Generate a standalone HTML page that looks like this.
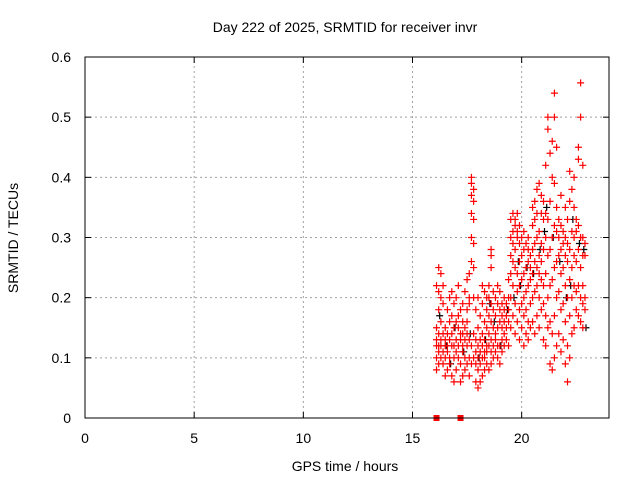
<!DOCTYPE html>
<html><head><meta charset="utf-8"><style>
body{margin:0;background:#fff}
svg{display:block;font-family:"Liberation Sans",sans-serif}
</style></head><body>
<svg id="chart" width="640" height="480" viewBox="0 0 640 480">
<rect width="640" height="480" fill="#fff"/>
<text x="345" y="32" font-size="14" text-anchor="middle" fill="#000">Day 222 of 2025, SRMTID for receiver invr</text>
<text x="345" y="471" font-size="14" text-anchor="middle">GPS time / hours</text>
<text transform="translate(18,238) rotate(-90)" font-size="14" text-anchor="middle">SRMTID / TECUs</text>
<g id="grid"></g>
<g id="ticks"></g>
<g id="black"></g>
<g id="red"></g>
<rect x="85" y="57" width="524" height="361" fill="none" stroke="#000" stroke-width="1"/>
</svg>
<script>
const xTicks=[0,5,10,15,20];
const yTicks=[0,0.1,0.2,0.3,0.4,0.5,0.6];
const yTickLabels=["0","0.1","0.2","0.3","0.4","0.5","0.6"];
const redTimes=[16.1,16.2,16.3,16.4,16.5,16.6,16.7,16.8,16.9,17.0,17.1,17.2,17.3,17.4,17.5,17.6,17.7,17.8,17.9,18.0,18.1,18.2,18.3,18.4,18.5,18.6,18.7,18.8,18.9,19.0,19.1,19.2,19.3,19.4,19.5,19.6,19.7,19.8,19.9,20.0,20.1,20.2,20.3,20.4,20.5,20.6,20.7,20.8,20.9,21.0,21.1,21.2,21.3,21.4,21.5,21.6,21.7,21.8,21.9,22.0,22.1,22.2,22.3,22.4,22.5,22.6,22.7,22.8,22.9];
const redValues=[
[0.08,0.10,0.12,0.13,0.15,0.22],[0.09,0.11,0.12,0.14,0.18,0.21,0.25],[0.10,0.12,0.13,0.16,0.24,0.2],[0.09,0.11,0.14,0.19,0.22],[0.07,0.10,0.12,0.13,0.15],[0.08,0.11,0.12,0.14,0.18],[0.09,0.10,0.13,0.16,0.2],[0.07,0.12,0.14,0.17,0.21],[0.06,0.10,0.12,0.19,0.15],[0.08,0.11,0.13,0.16,0.20],
[0.10,0.12,0.15,0.17,0.22],[0.06,0.09,0.13,0.18,0.14],[0.07,0.11,0.12,0.14,0.16,0.19],[0.08,0.10,0.13,0.15,0.21],[0.09,0.12,0.14,0.16,0.18,0.23],[0.07,0.10,0.13,0.19,0.2,0.24],[0.09,0.12,0.26,0.3,0.34,0.37,0.39,0.4],[0.1,0.14,0.2,0.25,0.29,0.33,0.36,0.38],[0.06,0.09,0.11,0.13,0.18],[0.05,0.08,0.10,0.12,0.15,0.2],
[0.06,0.09,0.11,0.13,0.17],[0.07,0.10,0.12,0.14,0.19,0.22],[0.08,0.10,0.11,0.13,0.16,0.21],[0.09,0.11,0.12,0.15,0.18,0.2],[0.08,0.12,0.14,0.17,0.2,0.22],[0.09,0.11,0.13,0.16,0.19,0.25,0.27,0.28],[0.10,0.12,0.15,0.18,0.21],[0.11,0.13,0.14,0.17,0.2],[0.1,0.12,0.15,0.19,0.22],[0.09,0.12,0.16,0.18,0.21],
[0.11,0.13,0.15,0.17,0.19],[0.12,0.14,0.16,0.18,0.2],[0.13,0.15,0.17,0.19],[0.12,0.16,0.18,0.2,0.23],[0.15,0.2,0.24,0.27,0.3,0.33],[0.17,0.22,0.26,0.29,0.31,0.34],[0.14,0.19,0.25,0.28,0.32,0.33],[0.16,0.21,0.24,0.3,0.31,0.34],[0.13,0.18,0.22,0.26,0.29,0.32],[0.15,0.19,0.23,0.27,0.3],
[0.12,0.17,0.2,0.24,0.28,0.31],[0.14,0.18,0.21,0.25,0.29],[0.13,0.16,0.22,0.26,0.28,0.3],[0.15,0.19,0.23,0.25,0.27],[0.16,0.2,0.24,0.28,0.32,0.35],[0.14,0.21,0.26,0.29,0.33,0.36],[0.17,0.22,0.25,0.3,0.34,0.38],[0.15,0.2,0.24,0.27,0.31,0.39],[0.18,0.23,0.26,0.29,0.34,0.37],[0.13,0.19,0.22,0.28,0.33,0.36],
[0.12,0.17,0.24,0.3,0.34,0.42],[0.15,0.2,0.27,0.33,0.48,0.5],[0.09,0.16,0.22,0.28,0.36,0.44],[0.08,0.14,0.23,0.3,0.4,0.46],[0.1,0.17,0.25,0.32,0.39,0.54,0.5],[0.12,0.2,0.26,0.31,0.35,0.45],[0.14,0.21,0.27,0.3,0.33],[0.11,0.18,0.24,0.28,0.32,0.37],[0.13,0.19,0.25,0.29,0.31],[0.09,0.16,0.22,0.27,0.3,0.35],
[0.06,0.12,0.2,0.26,0.29,0.33],[0.1,0.17,0.23,0.28,0.36,0.41],[0.14,0.2,0.25,0.31,0.38],[0.15,0.22,0.27,0.3,0.35,0.4],[0.18,0.21,0.26,0.31,0.33],[0.17,0.22,0.28,0.32,0.45,0.43],[0.16,0.2,0.25,0.3,0.5,0.557],[0.15,0.19,0.22,0.27,0.3,0.42],[0.18,0.2,0.27,0.29]
];
const blackTimes=[16.2,16.5,16.9,17.3,17.6,18.0,18.3,18.7,19.0,19.3,19.6,19.9,20.2,20.5,20.8,21.1,21.4,21.7,22.0,22.3,22.6,22.9,16.7,18.5,19.8,21.0,22.2,22.8];
const blackValues=[0.17,0.12,0.15,0.11,0.14,0.1,0.13,0.16,0.12,0.18,0.2,0.22,0.25,0.24,0.28,0.35,0.3,0.26,0.2,0.33,0.29,0.15,0.09,0.19,0.26,0.31,0.22,0.28];
const zeroTimes=[16.1,17.2];

const NS="http://www.w3.org/2000/svg";
const X0=85,X1=609,Y0=418,Y1=57,XMAX=24,YMAX=0.6;
function xs(t){return X0+(X1-X0)*t/XMAX;}
function ys(v){return Y0-(Y0-Y1)*v/YMAX;}
function mk(tag,attrs,parent){const e=document.createElementNS(NS,tag);for(const k in attrs)e.setAttribute(k,attrs[k]);parent.appendChild(e);return e;}
const grid=document.getElementById('grid'),ticks=document.getElementById('ticks');
xTicks.forEach(t=>{
  const x=xs(t);
  if(t>0){const g=mk('line',{x1:x,x2:x,y1:Y0,y2:Y1,stroke:'#a0a0a0','stroke-dasharray':'2,3'},grid);
  
  }
  const l=mk('text',{x:x,y:443,'font-size':14,'text-anchor':'middle'},ticks);l.textContent=t;
  
  
  mk('line',{x1:x,x2:x,y1:Y0,y2:Y0-6,stroke:'#000'},ticks);
  mk('line',{x1:x,x2:x,y1:Y1,y2:Y1+6,stroke:'#000'},ticks);
});
yTicks.forEach((v,i)=>{
  const y=ys(v);
  if(v>0&&v<YMAX){const g=mk('line',{x1:X0,x2:X1,y1:y,y2:y,stroke:'#a0a0a0','stroke-dasharray':'2,3'},grid);
  
  }
  const l=mk('text',{x:71,y:y+5,'font-size':14,'text-anchor':'end'},ticks);l.textContent=yTickLabels[i];
  
  
  mk('line',{x1:X0,x2:X0+6,y1:y,y2:y,stroke:'#000'},ticks);
  mk('line',{x1:X1,x2:X1-6,y1:y,y2:y,stroke:'#000'},ticks);
});
function plus(x,y,col,parent){
  const p=mk('path',{d:`M${x-3.5},${y}h7M${x},${y-3.5}v7`,stroke:col,'stroke-width':1.2,fill:'none'},parent);
  return p;
}
const bg=document.getElementById('black');
blackTimes.forEach((t,i)=>{
  const p=plus(xs(t)+1,ys(blackValues[i]),'#000',bg);
  
  
});
const rg=document.getElementById('red');
redTimes.forEach((t,i)=>{
  redValues[i].forEach(v=>{
    const p=plus(xs(t),ys(v),'#ff0000',rg);
    
    
  });
});
zeroTimes.forEach(t=>{
  const r=mk('rect',{x:xs(t)-3,y:ys(0)-3,width:6,height:6,fill:'#ff0000'},rg);
  
  
});
</script>
</body></html>
